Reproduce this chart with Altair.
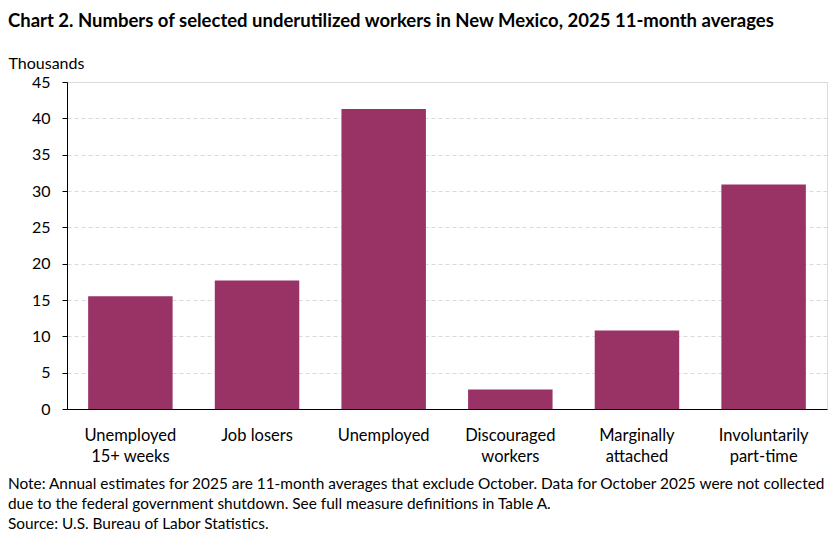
import altair as alt
import pandas as pd

categories = [
    "Unemployed\n15+ weeks",
    "Job losers",
    "Unemployed",
    "Discouraged\nworkers",
    "Marginally\nattached",
    "Involuntarily\npart-time",
]
values = [15.5, 17.7, 41.3, 2.7, 10.8, 30.9]
y_ticks = [0, 5, 10, 15, 20, 25, 30, 35, 40, 45]
title_text = "Chart 2. Numbers of selected underutilized workers in New Mexico, 2025 11-month averages"
y_title = "Thousands"
note_lines = [
    "Note: Annual estimates for 2025 are 11-month averages that exclude October. Data for October 2025 were not collected",
    "due to the federal government shutdown. See full measure definitions in Table A.",
    "Source: U.S. Bureau of Labor Statistics.",
]

FONT = "Lato"
BAR = "#993366"

df = pd.DataFrame({"category": categories, "value": values})

bars = alt.Chart(df).mark_bar(color=BAR).encode(
    x=alt.X(
        "category:N",
        sort=categories,
        scale=alt.Scale(paddingInner=0.333, paddingOuter=0.167),
        axis=alt.Axis(
            title=None,
            labelAngle=0,
            ticks=False,
            domainColor="#000000",
            labelExpr="split(datum.label, '\\n')",
            labelFont=FONT,
            labelFontSize=16.5,
            labelColor="#000000",
            labelPadding=18,
            labelLineHeight=21,
        ),
    ),
    y=alt.Y(
        "value:Q",
        scale=alt.Scale(domain=[0, 45]),
        axis=alt.Axis(
            values=y_ticks,
            title=y_title,
            titleAngle=0,
            titleAlign="left",
            titleBaseline="bottom",
            titleX=-59,
            titleY=-11,
            titleFont=FONT,
            titleFontSize=16,
            titleFontWeight="normal",
            titleColor="#000000",
            labelFont=FONT,
            labelFontSize=16,
            labelColor="#000000",
            labelPadding=12,
            tickSize=5,
            tickColor="#000000",
            domainColor="#000000",
            grid=True,
            gridColor="#d9d9d9",
            gridDash=[4, 3],
        ),
    ),
)

notes = alt.Chart(pd.DataFrame({"text": ["\n".join(note_lines)]})).mark_text(
    align="left",
    baseline="alphabetic",
    font=FONT,
    fontSize=15.4,
    color="#000000",
    lineBreak="\n",
    lineHeight=20,
).encode(
    text="text:N",
    x=alt.value(-59),
    y=alt.value(407),
)

chart = (
    alt.layer(bars, notes)
    .properties(
        width=760,
        height=327,
        padding={"left": 59, "top": 74, "right": 1, "bottom": 123},
        autosize=alt.AutoSizeParams(type="none"),
        title=alt.TitleParams(
            title_text,
            anchor="start",
            frame="group",
            dx=-59,
            font=FONT,
            fontSize=18.5,
            fontWeight="bold",
            color="#000000",
            offset=25,
        ),
    )
    .configure_view(stroke="#a6a6a6", strokeWidth=1)
    .configure(background="white")
)

chart.save("out.html", embed_options={"renderer": "svg", "actions": False})
